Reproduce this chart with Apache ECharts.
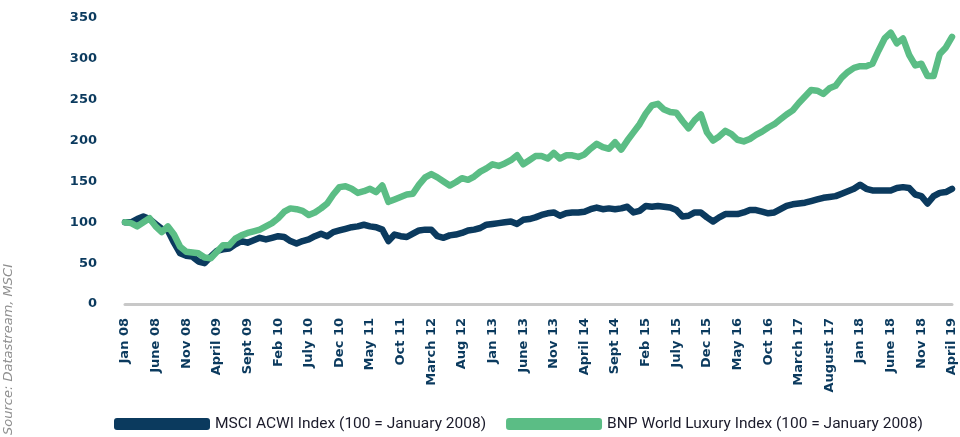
<!DOCTYPE html>
<html>
<head>
<meta charset="utf-8">
<script src="https://cdn.jsdelivr.net/npm/echarts@6/dist/echarts.min.js"></script>
<style>
    html, body {margin: 0; padding: 0; background: #fff;}
    #chart {width: 960px; height: 437px;}
</style>
</head>
<body>
<div id="chart"></div>
<script>
// 刻度标签，每5个月一个
var tickLabels = ['Jan 08', 'June 08', 'Nov 08', 'April 09', 'Sept 09', 'Feb 10', 'July 10',
    'Dec 10', 'May 11', 'Oct 11', 'March 12', 'Aug 12', 'Jan 13', 'June 13', 'Nov 13',
    'April 14', 'Sept 14', 'Feb 15', 'July 15', 'Dec 15', 'May 16', 'Oct 16', 'March 17',
    'August 17', 'Jan 18', 'June 18', 'Nov 18', 'April 19'];

var msci = [100, 100, 104, 107, 104, 98, 92, 90, 75, 62,
    59, 58, 52, 50, 58, 65, 67, 68, 73, 77,
    75, 78, 81, 79, 81, 83, 82, 77, 74, 77,
    79, 83, 86, 83, 88, 90, 92, 94, 95, 97,
    95, 94, 91, 77, 85, 83, 82, 86, 90, 91,
    91, 83, 81, 84, 85, 87, 90, 91, 93, 97,
    98, 99, 100, 101, 98, 103, 104, 106, 109, 111,
    112, 108, 111, 112, 112, 113, 116, 118, 116, 117,
    116, 117, 119, 112, 114, 120, 119, 120, 119, 118,
    115, 107, 108, 112, 112, 106, 101, 106, 110, 110,
    110, 112, 115, 115, 113, 111, 112, 116, 120, 122,
    123, 124, 126, 128, 130, 131, 132, 135, 138, 141,
    146, 141, 139, 139, 139, 139, 142, 143, 142, 134,
    132, 123, 132, 136, 137, 141];

var bnp = [100, 99, 95, 100, 105, 95, 88, 95, 85, 70,
    64, 63, 62, 57, 56, 64, 72, 72, 80, 84,
    87, 89, 91, 95, 99, 105, 113, 117, 116, 114,
    109, 112, 117, 123, 134, 143, 144, 141, 136, 138,
    141, 137, 145, 125, 128, 131, 134, 135, 146, 155,
    159, 155, 150, 145, 149, 154, 152, 156, 162, 166,
    171, 169, 172, 176, 182, 171, 176, 181, 181, 178,
    185, 178, 182, 182, 180, 183, 190, 196, 192, 190,
    198, 189, 200, 210, 220, 233, 243, 245, 238, 235,
    234, 224, 215, 225, 232, 210, 200, 205, 212, 208,
    201, 199, 202, 207, 211, 216, 220, 226, 232, 237,
    246, 254, 262, 261, 257, 264, 267, 277, 284, 289,
    291, 291, 294, 310, 325, 332, 319, 325, 305, 292,
    294, 279, 279, 306, 314, 327];

var seriesNames = ['MSCI ACWI Index (100 = January 2008)', 'BNP World Luxury Index (100 = January 2008)'];

var months = [];
for (var i = 0; i < msci.length; i++) {
    months.push(String(i));
}

var navy = '#0b3a5e';
var green = '#5bbd85';

var myChart = echarts.init(document.getElementById('chart'), null, {renderer: 'canvas'});
var option = {
    animation: false,
    grid: {
        left: 125,
        right: 8,
        top: 18,
        bottom: 133
    },
    legend: {
        data: seriesNames,
        top: 416,
        left: 114,
        padding: 0,
        icon: 'roundRect',
        itemWidth: 96,
        itemHeight: 12,
        itemGap: 20,
        textStyle: {
            fontFamily: 'Roboto, sans-serif',
            fontSize: 15.5,
            color: '#1b1b2b'
        }
    },
    xAxis: {
        type: 'category',
        boundaryGap: false,
        data: months,
        axisLine: {lineStyle: {color: '#c8c8c8', width: 3}},
        axisTick: {show: false},
        axisLabel: {
            interval: 4,
            rotate: 90,
            margin: 14,
            fontFamily: 'DejaVu Sans, sans-serif',
            fontWeight: 'bold',
            fontSize: 13,
            color: navy,
            formatter: function (value, idx) {
                return tickLabels[idx / 5];
            }
        }
    },
    yAxis: {
        type: 'value',
        min: 0,
        max: 350,
        interval: 50,
        axisLine: {show: false},
        axisTick: {show: false},
        splitLine: {show: false},
        axisLabel: {
            margin: 28,
            fontFamily: 'DejaVu Sans, sans-serif',
            fontWeight: 'bold',
            fontSize: 13,
            color: navy
        }
    },
    graphic: [{
        type: 'text',
        x: 15,
        y: 435,
        rotation: Math.PI / 2,
        style: {
            text: 'Source: Datastream, MSCI',
            fill: '#8f8f8f',
            font: 'italic 13px "DejaVu Sans", sans-serif',
            textAlign: 'left',
            textVerticalAlign: 'bottom'
        }
    }],
    series: [{
        name: seriesNames[0],
        type: 'line',
        data: msci,
        showSymbol: false,
        color: navy,
        lineStyle: {width: 6.5, color: navy, join: 'round', cap: 'round'}
    }, {
        name: seriesNames[1],
        type: 'line',
        data: bnp,
        showSymbol: false,
        color: green,
        lineStyle: {width: 6.5, color: green, join: 'round', cap: 'round'}
    }]
};
myChart.setOption(option);
</script>
</body>
</html>
